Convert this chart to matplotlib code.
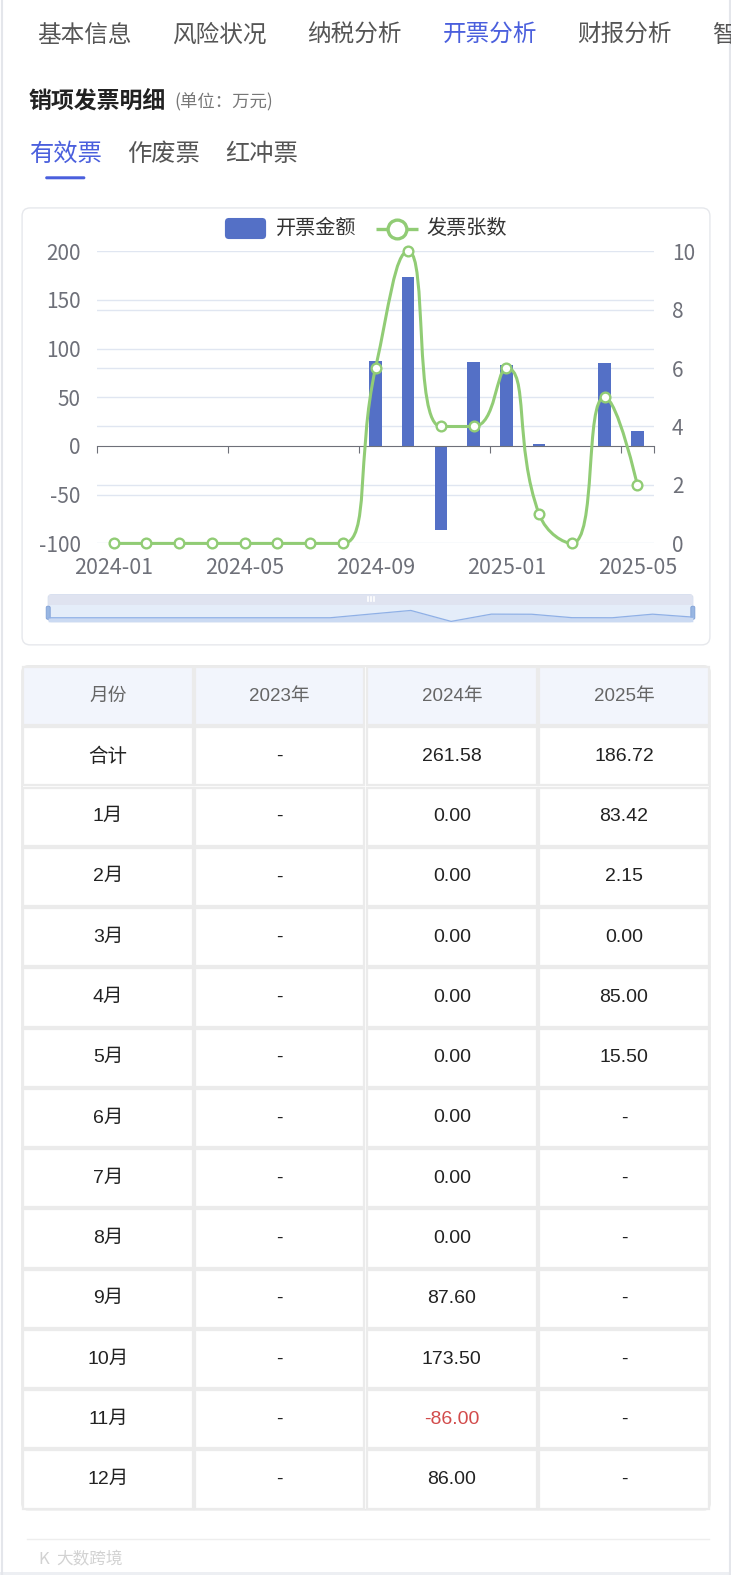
import math
import matplotlib
matplotlib.use("Agg")
import matplotlib.pyplot as plt
from matplotlib.patches import FancyBboxPatch, Rectangle, PathPatch
from matplotlib.path import Path

plt.rcParams['font.family'] = ['Noto Sans CJK SC', 'DejaVu Sans']
plt.rcParams['axes.unicode_minus'] = False

# ---- data ----
periods = ['2024-01', '2024-02', '2024-03', '2024-04', '2024-05', '2024-06',
           '2024-07', '2024-08', '2024-09', '2024-10', '2024-11', '2024-12',
           '2025-01', '2025-02', '2025-03', '2025-04', '2025-05']
amounts = [0, 0, 0, 0, 0, 0, 0, 0, 87.60, 173.50, -86.00, 86.00,
           83.42, 2.15, 0.00, 85.00, 15.50]
counts = [0, 0, 0, 0, 0, 0, 0, 0, 6, 10, 4, 4, 6, 1, 0, 5, 2]

left_ticks = [-100, -50, 0, 50, 100, 150, 200]
right_ticks = [0, 2, 4, 6, 8, 10]

tabs = ['基本信息', '风险状况', '纳税分析', '开票分析', '财报分析']
sub_tabs = ['有效票', '作废票', '红冲票']

table_header = ['月份', '2023年', '2024年', '2025年']
row_names = ['合计', '1月', '2月', '3月', '4月', '5月', '6月', '7月', '8月',
             '9月', '10月', '11月', '12月']
col_2023 = ['-'] * 13
col_2024 = ['261.58', '0.00', '0.00', '0.00', '0.00', '0.00', '0.00', '0.00',
            '0.00', '87.60', '173.50', '-86.00', '86.00']
col_2025 = ['186.72', '83.42', '2.15', '0.00', '85.00', '15.50', '-', '-',
            '-', '-', '-', '-', '-']

BLUE = '#5470C6'
GREEN = '#91CC75'
AXIS = '#6E7079'
GRID = '#E0E6F1'
ACTIVE = '#4A5FDD'

W, H = 728, 1568


def box(x0, y0, x1, y1):
    return [x0 / W, 1 - y1 / H, (x1 - x0) / W, (y1 - y0) / H]


def smooth_path(xs, ys, sx, sy, smooth=0.5):
    # echarts-like bezier smoothing, done in pixel space
    px = [x * sx for x in xs]
    py = [y * sy for y in ys]
    n = len(px)
    verts = [(px[0], py[0])]
    codes = [Path.MOVETO]
    cp0 = (px[0], py[0])
    for i in range(1, n):
        x, y = px[i], py[i]
        prx, pry = px[i - 1], py[i - 1]
        if i == n - 1:
            cp1 = (x, y)
            ncp0 = None
        else:
            nx, ny = px[i + 1], py[i + 1]
            vx, vy = nx - prx, ny - pry
            l0 = math.hypot(x - prx, y - pry)
            l1 = math.hypot(nx - x, ny - y)
            r = l1 / (l0 + l1)
            ncx = x + vx * smooth * r
            ncy = y + vy * smooth * r
            ncx = max(min(ncx, max(nx, x)), min(nx, x))
            ncy = max(min(ncy, max(ny, y)), min(ny, y))
            vx, vy = ncx - x, ncy - y
            c1x = x - vx * l0 / l1
            c1y = y - vy * l0 / l1
            c1x = max(min(c1x, max(prx, x)), min(prx, x))
            c1y = max(min(c1y, max(pry, y)), min(pry, y))
            vx, vy = x - c1x, y - c1y
            ncp0 = (x + vx * l1 / l0, y + vy * l1 / l0)
            cp1 = (c1x, c1y)
        verts += [cp0, cp1, (x, y)]
        codes += [Path.CURVE4] * 3
        cp0 = ncp0
    verts = [(a / sx, b / sy) for a, b in verts]
    return Path(verts, codes)


fig = plt.figure(figsize=(7.31, 15.75), dpi=100)
ui = fig.add_axes([0, 0, 1, 1])
ui.set_xlim(0, W)
ui.set_ylim(H, 0)
ui.axis('off')

# page edges
ui.plot([2, 2], [0, H], color='#E4E6EB', lw=1.5)
ui.plot([727, 727], [0, H], color='#E4E6EB', lw=1.5)
ui.add_patch(Rectangle((0, 1565), W, 4, color='#EDEFF3', lw=0))

# top tabs
tab_x = [84, 218, 353, 488, 622]
for t, x in zip(tabs, tab_x):
    ui.text(x, 35, t, fontsize=17, ha='center', va='center',
            color=ACTIVE if t == '开票分析' else '#555555')
ui.text(709, 35, '智', fontsize=17, ha='left', va='center', color='#555555')

# section title
ui.text(28, 101, '销项发票明细', fontsize=16.5, fontweight='bold',
        ha='left', va='center', color='#222222')
ui.text(174, 102, '(单位：万元)', fontsize=12.5, ha='left', va='center',
        color='#777777')

sub_x = [65, 163, 260]
for t, x in zip(sub_tabs, sub_x):
    ui.text(x, 153, t, fontsize=17.5, ha='center', va='center',
            color=ACTIVE if t == '有效票' else '#555555')
ui.add_patch(FancyBboxPatch((45, 175.5), 40, 3,
                            boxstyle='round,pad=0,rounding_size=1.5',
                            color=ACTIVE, lw=0))

# chart card
ui.add_patch(FancyBboxPatch((22, 207), 685, 435,
                            boxstyle='round,pad=0,rounding_size=8',
                            fc='white', ec='#E6E8EC', lw=1))

# legend
ui.add_patch(FancyBboxPatch((224, 217), 41, 21,
                            boxstyle='round,pad=0,rounding_size=4',
                            color=BLUE, lw=0))
ui.text(275, 227.5, '开票金额', fontsize=14.5, ha='left', va='center', color='#333333')
ui.plot([374, 416], [227.5, 227.5], color=GREEN, lw=2.4, solid_capstyle='butt')
ui.plot([395], [227.5], 'o', ms=13.5, mfc='white', mec=GREEN, mew=2.4)
ui.text(425, 227.5, '发票张数', fontsize=14.5, ha='left', va='center', color='#333333')

# main chart
ax = fig.add_axes(box(97, 250, 651, 541))
ax.patch.set_visible(False)
xs = list(range(len(periods)))
ax.bar(xs, amounts, width=0.38, color=BLUE, zorder=2)
ax.set_xlim(-0.5, len(periods) - 0.5)
ax.set_ylim(left_ticks[0], left_ticks[-1])
ax.set_yticks(left_ticks)
ax.tick_params(axis='y', length=0, labelsize=15, labelcolor=AXIS, pad=12)
for t in left_ticks:
    if t != 0:
        ax.axhline(t, color=GRID, lw=1, zorder=0)
for t in right_ticks[1:-1]:
    ax.axhline(left_ticks[0] + (left_ticks[-1] - left_ticks[0]) * t / right_ticks[-1],
               color=GRID, lw=1, zorder=0)
for s in ['top', 'right', 'left']:
    ax.spines[s].set_visible(False)
ax.spines['bottom'].set_position(('data', 0))
ax.spines['bottom'].set_color(AXIS)
ax.set_xticks([i - 0.5 for i in range(0, len(periods) + 1, 4)] + [len(periods) - 0.5])
ax.tick_params(axis='x', length=5, color=AXIS, labelbottom=False, direction='out')

sec = ax.secondary_xaxis(0)
sec.set_xticks(xs[::4])
sec.set_xticklabels(periods[::4])
sec.tick_params(length=0, labelsize=15.5, labelcolor=AXIS, pad=10)
sec.spines['bottom'].set_visible(False)

ax2 = ax.twinx()
ax2.set_ylim(right_ticks[0], right_ticks[-1])
ax2.set_yticks(right_ticks)
ax2.tick_params(axis='y', length=0, labelsize=15, labelcolor=AXIS, pad=13)
for s in ax2.spines.values():
    s.set_visible(False)
path = smooth_path(xs, counts, 32.6, 29.1)
ax2.add_patch(PathPatch(path, fill=False, ec=GREEN, lw=2.2, zorder=3,
                        clip_on=False))
ax2.plot(xs, counts, 'o', ms=7, mfc='white', mec=GREEN, mew=1.7, zorder=4,
         clip_on=False)

# data zoom slider
ui.add_patch(FancyBboxPatch((48, 592), 642, 27,
                            boxstyle='round,pad=0,rounding_size=3',
                            fc='#E4EDF9', ec='#D7DEEE', lw=0.8))
ui.add_patch(Rectangle((48.5, 592.5), 641, 9.5, fc='#DFE3F0', lw=0))
for dx in (-3, 0, 3):
    ui.plot([369 + dx, 369 + dx], [594.5, 598.5], color='white', lw=1.2)
sl = fig.add_axes(box(48, 602, 690, 619))
sl.axis('off')
sl.set_xlim(0, len(periods) - 1)
sl.set_ylim(-95, 310)
sl.fill_between(xs, amounts, -95, color='#CBDAF2', lw=0)
sl.plot(xs, amounts, color='#8FB0E6', lw=0.9)
for hx in (48, 690):
    ui.add_patch(FancyBboxPatch((hx - 2, 603.5), 4, 13,
                                boxstyle='round,pad=0,rounding_size=1.5',
                                fc='#98B6E2', ec='#7E9FD6', lw=0.6))

# table
col_edges = [22, 193, 364, 536, 707]
row_top = 663
row_h = 60
n_rows = len(row_names) + 1
ui.add_patch(FancyBboxPatch((22, row_top), 685, row_h * n_rows,
                            boxstyle='round,pad=0,rounding_size=6',
                            fc='white', ec='#E8E8E8', lw=1.2))
num_font = ['Liberation Sans', 'Noto Sans CJK SC']
for r in range(n_rows):
    y0 = row_top + r * row_h
    for c in range(4):
        x0 = col_edges[c]
        fc = '#F2F5FC' if r == 0 else 'white'
        ui.add_patch(Rectangle((x0 + 1, y0 + 1), col_edges[c + 1] - x0 - 2,
                               row_h - 2, fc=fc, ec='#EBEBEB', lw=1.6))
    cy = y0 + row_h / 2
    if r == 0:
        cells = table_header
    else:
        i = r - 1
        cells = [row_names[i], col_2023[i], col_2024[i], col_2025[i]]
    for c, txt in enumerate(cells):
        cx = (col_edges[c] + col_edges[c + 1]) / 2
        if r == 0:
            color = '#666666'
        elif txt.startswith('-') and len(txt) > 1:
            color = '#D24B4B'
        else:
            color = '#222222'
        ui.text(cx, cy, txt, fontsize=13.5 if r == 0 else 14, family=num_font,
                ha='center', va='center', color=color)

# footer
ui.plot([27, 706], [1532, 1532], color='#EEEEEE', lw=1)
ui.text(56, 1553, '大数跨境', fontsize=12, ha='left', va='center', color='#D2D2D2')
ui.text(38, 1553, 'K', fontsize=12, ha='left', va='center', color='#D2D2D2')

fig.savefig('out.png', dpi=100)
